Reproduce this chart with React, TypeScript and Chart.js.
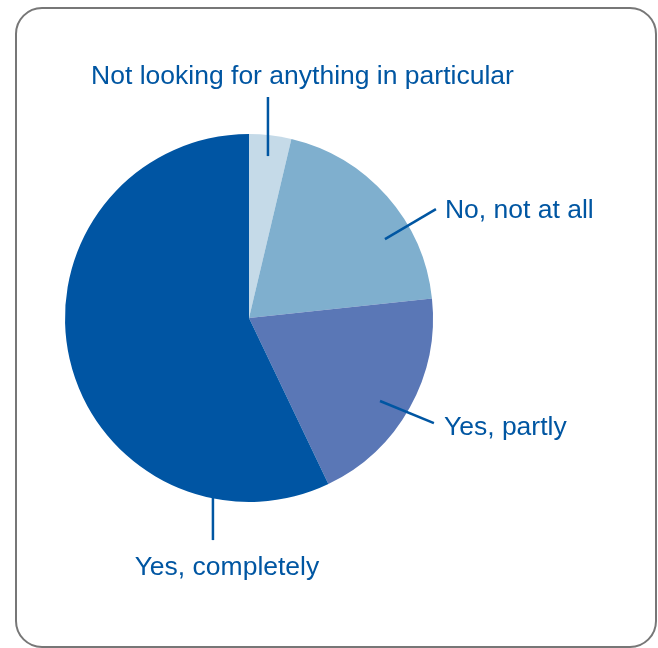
import React, { useEffect, useRef } from "react";
import { Chart, registerables } from "chart.js";

Chart.register(...registerables);

const categories: string[] = [
  "Not looking for anything in particular",
  "No, not at all",
  "Yes, partly",
  "Yes, completely",
];
const shares: number[] = [3.7, 19.6, 19.6, 57.1];
const sliceColors: string[] = ["#C5DAE8", "#7FAFCE", "#5A77B6", "#0055A3"];

const TEXT_BLUE = "#0056A2";

// Leader lines in units of the pie radius (relative to centre), and text offsets from the line end
const leaderLayout = [
  { from: [0.103, -0.88], to: [0.103, -1.201], dx: 34.5, dy: -13.5, align: "center" },
  { from: [0.739, -0.429], to: [1.016, -0.592], dx: 9, dy: 9, align: "left" },
  { from: [0.712, 0.451], to: [1.005, 0.571], dx: 10, dy: 12, align: "left" },
  { from: [-0.196, 0.973], to: [-0.196, 1.207], dx: 14, dy: 35, align: "center" },
];

const framePlugin = {
  id: "frame",
  beforeDraw(chart: any) {
    const ctx = chart.ctx;
    ctx.save();
    ctx.fillStyle = "#ffffff";
    ctx.fillRect(0, 0, chart.width, chart.height);
    ctx.strokeStyle = "#777777";
    ctx.lineWidth = 2;
    ctx.beginPath();
    (ctx as any).roundRect(16, 8, chart.width - 18, chart.height - 9, 26);
    ctx.stroke();
    ctx.restore();
  },
};

const leaderPlugin = {
  id: "leaders",
  afterDraw(chart: any) {
    const ctx = chart.ctx;
    const meta = chart.getDatasetMeta(0);
    const labels = chart.data.labels as string[];
    ctx.save();
    meta.data.forEach((arc: any, i: number) => {
      const lay = leaderLayout[i];
      if (!lay) return;
      const cx = arc.x;
      const cy = arc.y;
      const r = arc.outerRadius;
      const x1 = cx + lay.from[0] * r;
      const y1 = cy + lay.from[1] * r;
      const x2 = cx + lay.to[0] * r;
      const y2 = cy + lay.to[1] * r;
      ctx.strokeStyle = TEXT_BLUE;
      ctx.lineWidth = 2.5;
      ctx.lineCap = "butt";
      ctx.beginPath();
      ctx.moveTo(x1, y1);
      ctx.lineTo(x2, y2);
      ctx.stroke();
      ctx.fillStyle = TEXT_BLUE;
      ctx.font = '26.5px "Liberation Sans", Arial, sans-serif';
      ctx.textAlign = lay.align;
      ctx.textBaseline = "alphabetic";
      ctx.fillText(labels[i], x2 + lay.dx, y2 + lay.dy);
    });
    ctx.restore();
  },
};

export default function App() {
  const canvasRef = useRef<HTMLCanvasElement | null>(null);

  useEffect(() => {
    if (!canvasRef.current) return;
    const chart = new Chart(canvasRef.current, {
      type: "pie",
      data: {
        labels: categories,
        datasets: [
          {
            data: shares,
            backgroundColor: sliceColors,
            borderWidth: 0,
            offset: 0,
            hoverOffset: 0,
          },
        ],
      },
      options: {
        responsive: false,
        animation: false,
        events: [],
        layout: { padding: { left: 65, right: 225, top: 134, bottom: 146 } },
        plugins: {
          legend: { display: false },
          tooltip: { enabled: false },
          title: { display: false },
        },
      },
      plugins: [framePlugin, leaderPlugin],
    });
    return () => chart.destroy();
  }, []);

  return (
    <div style={{ position: "fixed", left: 0, top: 0, width: 658, height: 648, background: "#fff" }}>
      <canvas ref={canvasRef} width={658} height={648} style={{ display: "block" }} />
    </div>
  );
}
